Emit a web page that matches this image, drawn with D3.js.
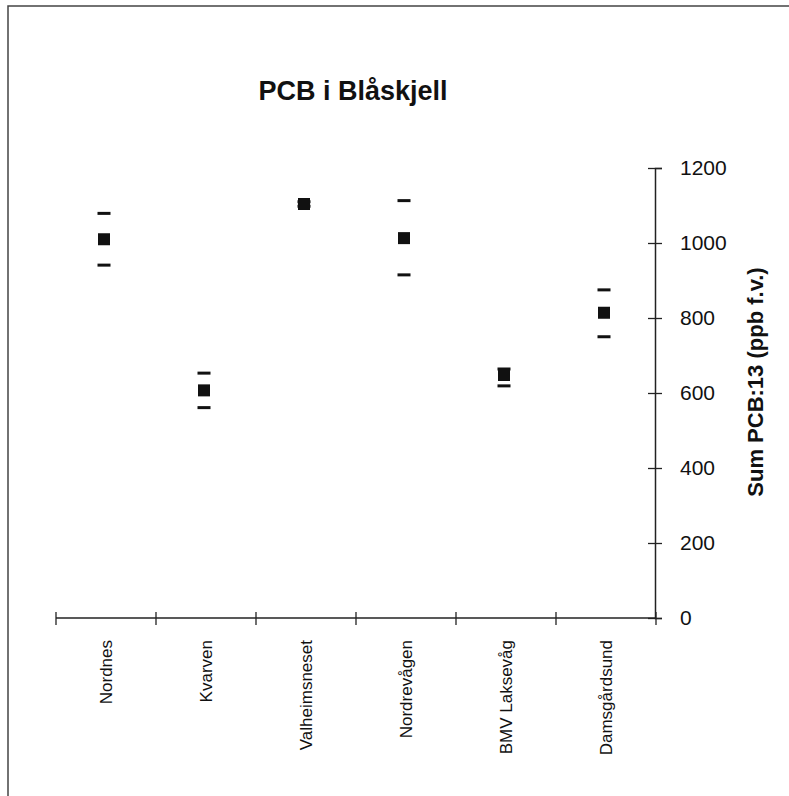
<!DOCTYPE html>
<html>
<head>
<meta charset="utf-8">
<script src="https://cdnjs.cloudflare.com/ajax/libs/d3/7.8.5/d3.min.js"></script>
<style>
    body { margin: 0; background: #ffffff; }
    text { font-family: Arial, "Liberation Sans", sans-serif; fill: #111111; }
</style>
</head>
<body>
<div id="chart"></div>
<script>
// sampling stations and the PCB values (ppb f.v.)
var stations = ["Nordnes", "Kvarven", "Valheimsneset", "Nordrevågen", "BMV Laksevåg", "Damsgårdsund"];
var mean_values = [1010, 607, 1104, 1013, 648, 814];
var high_values = [1079, 653, 1110, 1113, 664, 875];
var low_values = [941, 561, 1098, 915, 619, 750];
var y_ticks = [0, 200, 400, 600, 800, 1000, 1200];

var chart_title = "PCB i Blåskjell";
var y_title = "Sum PCB:13 (ppb f.v.)";

var width = 789;
var height = 796;

var svg = d3.select("#chart").append("svg")
            .attr("width", width)
            .attr("height", height);

// scanned page frame
svg.append("rect")
   .attr("x", 8)
   .attr("y", 6)
   .attr("width", 820)
   .attr("height", 820)
   .attr("fill", "none")
   .attr("stroke", "#444444")
   .attr("stroke-width", 1.5);

var x_scale = d3.scaleBand()
                .domain(stations)
                .range([56, 656]);

var y_scale = d3.scaleLinear()
                .domain([0, 1200])
                .range([618, 168]);

svg.append("text")
   .attr("x", 353)
   .attr("y", 100)
   .attr("text-anchor", "middle")
   .attr("font-size", 27)
   .attr("font-weight", "bold")
   .text(chart_title);

// y axis on the right, ticks crossing the line
var y_axis = svg.append("g")
                .attr("transform", "translate(655,0)")
                .call(d3.axisRight(y_scale)
                        .tickValues(y_ticks)
                        .tickFormat(d3.format("d"))
                        .tickSize(7)
                        .tickPadding(18));

y_axis.select(".domain").attr("stroke", "#222222").attr("stroke-width", 1.5);
y_axis.selectAll(".tick line").attr("x1", -7).attr("stroke", "#222222").attr("stroke-width", 1.3);
y_axis.selectAll(".tick text")
      .attr("font-size", 21)
      .attr("font-family", "Arial, 'Liberation Sans', sans-serif")
      .attr("fill", "#111111");

svg.append("text")
   .attr("transform", "translate(763,382)rotate(-90)")
   .attr("text-anchor", "middle")
   .attr("font-size", 22)
   .attr("font-weight", "bold")
   .text(y_title);

// x axis with ticks at the category borders
var x_axis_y = y_scale(0);
var border_positions = stations.map(function (d) { return x_scale(d); });
border_positions.push(x_scale.range()[1]);

svg.append("line")
   .attr("x1", x_scale.range()[0])
   .attr("x2", x_scale.range()[1])
   .attr("y1", x_axis_y)
   .attr("y2", x_axis_y)
   .attr("stroke", "#222222")
   .attr("stroke-width", 1.6);

svg.selectAll(".x-tick")
   .data(border_positions)
   .enter().append("line")
   .attr("class", "x-tick")
   .attr("x1", function (d) { return d; })
   .attr("x2", function (d) { return d; })
   .attr("y1", x_axis_y - 6)
   .attr("y2", x_axis_y + 7)
   .attr("stroke", "#222222")
   .attr("stroke-width", 1.3);

svg.selectAll(".x-label")
   .data(stations)
   .enter().append("text")
   .attr("class", "x-label")
   .attr("text-anchor", "end")
   .attr("font-size", 17)
   .attr("transform", function (d) {
       var cx = x_scale(d) + x_scale.bandwidth() / 2 + 6;
       return "translate(" + cx + "," + (x_axis_y + 22) + ")rotate(-90)";
   })
   .text(function (d) { return d; });

// high / low dashes and the mean square
var marks = svg.append("g");
var dash_width = 13;
var square_size = 12;

for (var index = 0; index < stations.length; index++)
{
    var cx = x_scale(stations[index]) + x_scale.bandwidth() / 2 - 2;
    var limits = [high_values[index], low_values[index]];

    marks.selectAll(null)
         .data(limits)
         .enter().append("rect")
         .attr("x", cx - dash_width / 2)
         .attr("y", function (d) { return y_scale(d) - 1.5; })
         .attr("width", dash_width)
         .attr("height", 3)
         .attr("fill", "#111111");

    marks.append("rect")
         .attr("x", cx - square_size / 2)
         .attr("y", y_scale(mean_values[index]) - square_size / 2)
         .attr("width", square_size)
         .attr("height", square_size)
         .attr("fill", "#111111");
}
</script>
</body>
</html>
